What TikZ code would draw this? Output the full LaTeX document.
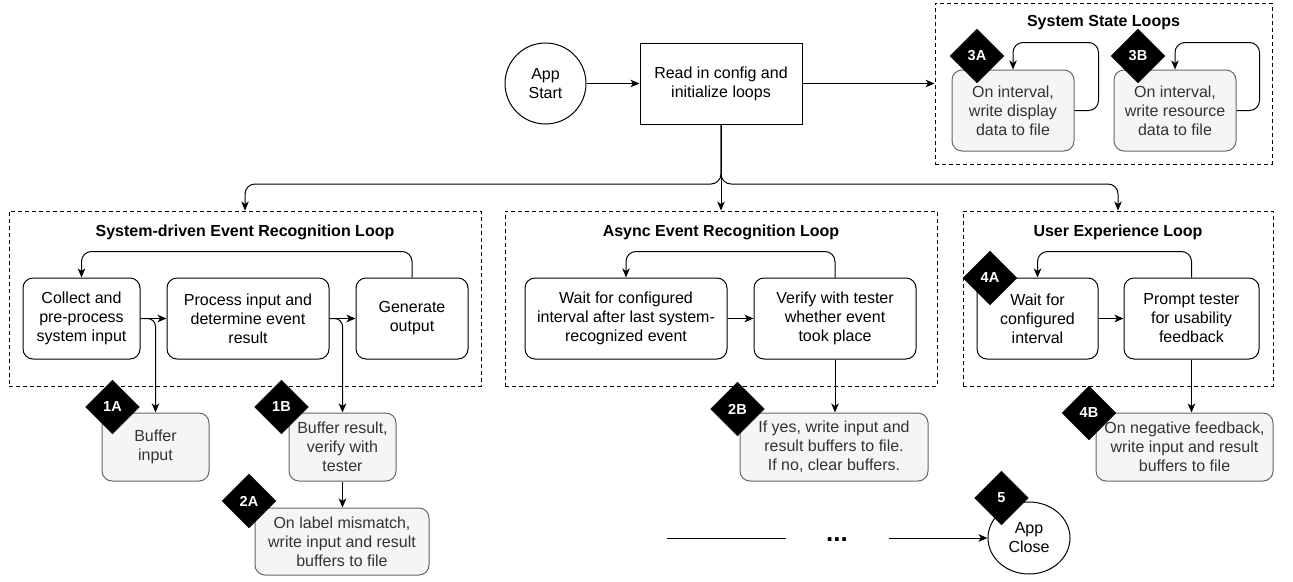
\documentclass[tikz,border=0pt]{standalone}
\usepackage{fontspec}
\setmainfont{Liberation Sans}
\usetikzlibrary{shapes.geometric,arrows.meta,calc}
\definecolor{gfill}{HTML}{F5F5F5}
\definecolor{gline}{HTML}{666666}
\definecolor{gtext}{HTML}{333333}
\begin{document}
\begin{tikzpicture}[x=1pt,y=-1pt,
  every node/.style={font=\fontsize{16}{19}\selectfont},
  base/.style={draw, line width=1pt, align=center, inner sep=0pt},
  proc/.style={base, rounded corners=10pt, fill=white, minimum height=81pt},
  gproc/.style={base, rounded corners=10pt, fill=gfill, draw=gline, text=gtext, minimum height=68pt},
  plainbox/.style={base, fill=white, minimum height=81pt},
  group/.style={draw, line width=0.9pt, dash pattern=on 4pt off 3pt, inner sep=0pt},
  grouptitle/.style={font=\fontsize{16}{19}\selectfont\bfseries},
  badge/.style={diamond, fill=black, draw=black, text=white, aspect=1,
    font=\fontsize{14.5}{17}\selectfont\bfseries, minimum width=54pt, minimum height=54pt, inner sep=0pt},
  arr/.style={draw, line width=1pt, -{Stealth[length=9pt,width=7.5pt,inset=2.5pt]}},
  plainline/.style={draw, line width=1pt}
]
\useasboundingbox (0,0) rectangle (1293,581);

% groups
\node[group, minimum width=472pt, minimum height=175pt] (g1) at (245,298.5) {};
\node[grouptitle] (t1) at (245,232) {System-driven Event Recognition Loop};
\node[group, minimum width=432pt, minimum height=175pt] (g2) at (721,298.5) {};
\node[grouptitle] (t2) at (721,232) {Async Event Recognition Loop};
\node[group, minimum width=310pt, minimum height=175pt] (g3) at (1118,298.5) {};
\node[grouptitle] (t3) at (1118,232) {User Experience Loop};
\node[group, minimum width=337pt, minimum height=161pt] (g0) at (1103.5,83.5) {};
\node[grouptitle] (t0) at (1103.5,23) {System State Loops};

% top
\node[base, circle, minimum size=81pt] (start) at (545.5,83.5) {App\\Start};
\node[plainbox, minimum width=162pt] (read) at (721,83.5) {Read in config and\\initialize loops};
\node[gproc, minimum width=122pt, minimum height=81pt] (s3a) at (1013,110.5) {On interval,\\write display\\data to file};
\node[gproc, minimum width=122pt, minimum height=81pt] (s3b) at (1175,110.5) {On interval,\\write resource\\data to file};

% loop 1
\node[proc, minimum width=117pt] (collect) at (81.5,318.5) {Collect and\\pre-process\\system input};
\node[proc, minimum width=162pt] (process) at (248,318.5) {Process input and\\determine event\\result};
\node[proc, minimum width=112pt] (generate) at (412,318.5) {Generate\\output};
% loop 2
\node[proc, minimum width=202pt] (wait1) at (626,318.5) {Wait for configured\\interval after last system-\\recognized event};
\node[proc, minimum width=162pt] (verify) at (835,318.5) {Verify with tester\\whether event\\took place};
% loop 3
\node[proc, minimum width=121pt] (wait2) at (1037.5,318.5) {Wait for\\configured\\interval};
\node[proc, minimum width=135pt] (prompt) at (1191.5,318.5) {Prompt tester\\for usability\\feedback};

% lower boxes
\node[gproc, minimum width=107pt] (bufin) at (155.5,447) {Buffer\\input};
\node[gproc, minimum width=107pt] (bufres) at (342.5,447) {Buffer result,\\verify with\\tester};
\node[gproc, minimum width=174pt, minimum height=67pt] (mism) at (342,541.5) {On label mismatch,\\write input and result\\buffers to file};
\node[gproc, minimum width=188pt] (ifyes) at (834,447) {If yes, write input and\\result buffers to file.\\If no, clear buffers.};
\node[gproc, minimum width=177pt] (negfb) at (1184.5,447) {On negative feedback,\\write input and result\\buffers to file};
\node[base, ellipse, fill=white, minimum width=82pt, minimum height=72pt] (close) at (1029,538) {App\\Close};

% connectors top
\draw[arr] (start) -- (read);
\draw[arr] (read.east) -- (read.east -| g0.west);
\coordinate (busc) at (721,184);
\draw[arr, rounded corners=10pt] (read.south) -- (busc) -| (g1.north);
\draw[arr, rounded corners=10pt] (read.south) -- (busc) -| (g3.north);
\draw[arr] (read.south) -- (g2.north);
\draw[arr, rounded corners=10pt] (s3a.east) -- ++(24,0) |- ($(s3a.north)+(0,-27)$) -- (s3a.north);
\draw[arr, rounded corners=10pt] (s3b.east) -- ++(23,0) |- ($(s3b.north)+(0,-27)$) -- (s3b.north);

% loop 1 connectors
\draw[arr, rounded corners=10pt] (generate.north) -- ++(0,-26) -| (collect.north);
\draw[arr] (collect) -- (process);
\draw[arr] (process) -- (generate);
\draw[arr, rounded corners=8pt] (collect.east) -| (bufin.north);
\draw[arr, rounded corners=8pt] (process.east) -| (bufres.north);
\draw[arr] (bufres.south) -- (bufres.south |- mism.north);

% loop 2 connectors
\draw[arr, rounded corners=10pt] (verify.north) -- ++(0,-26) -| (wait1.north);
\draw[arr] (wait1) -- (verify);
\draw[arr] (verify.south) -- (verify.south |- ifyes.north);

% loop 3 connectors
\draw[arr, rounded corners=10pt] (prompt.north) -- ++(0,-26) -| (wait2.north);
\draw[arr] (wait2) -- (prompt);
\draw[arr] (prompt.south) -- (prompt.south |- negfb.north);

% bottom
\coordinate (l1a) at (667,538);
\coordinate (l1b) at (786,538);
\coordinate (l2a) at (889,538);
\draw[plainline] (l1a) -- (l1b);
\node[anchor=base, font=\fontsize{26}{30}\selectfont\bfseries] (dots) at (837,541) {...};
\draw[arr] (l2a) -- (close.west);

% badges
\node[badge] (b3a) at (977,56) {3A};
\node[badge] (b3b) at (1138,56) {3B};
\node[badge] (b1a) at (112.5,407) {1A};
\node[badge] (b1b) at (281.5,407) {1B};
\node[badge] (b2a) at (249,501) {2A};
\node[badge] (b2b) at (737.5,409) {2B};
\node[badge] (b4a) at (990,278) {4A};
\node[badge] (b4b) at (1089,413) {4B};
\node[badge] (b5) at (1001.5,498) {5};
\end{tikzpicture}
\end{document}
